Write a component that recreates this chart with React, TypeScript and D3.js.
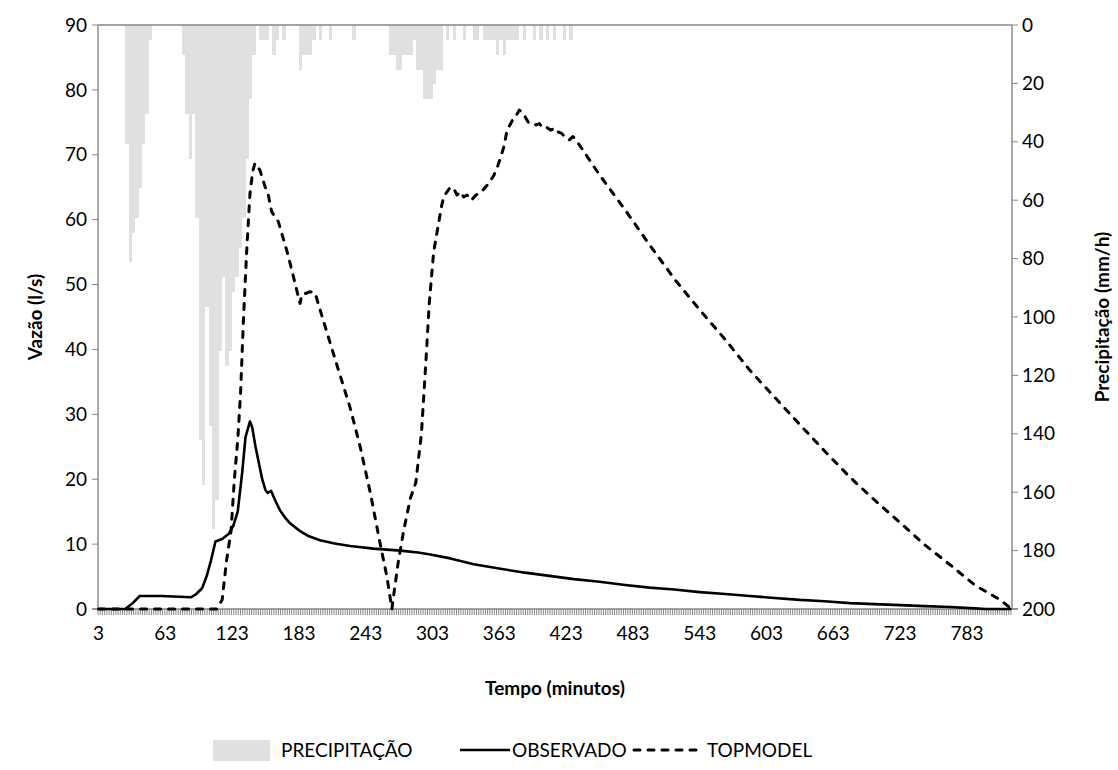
import React from "react";
import * as d3 from "d3";

// precipitation: 3-minute bars, time = end of interval (min), value in mm/h
const precipTempo = [
  30, 33, 36, 39, 42, 45, 48, 51,
  81, 84, 87, 90, 93, 96, 99, 102, 105, 108, 111, 114, 117, 120, 123, 126, 129, 132, 135, 138, 141, 144,
  150, 153, 156, 162, 165, 171, 186, 189, 192, 195, 198, 204, 213, 234,
  267, 270, 273, 276, 279, 282, 285, 288, 291, 294, 297, 300, 303, 306, 309, 312,
  318, 324, 333, 342, 345, 351, 354, 357, 360, 363, 366, 369, 372, 375, 378, 381,
  387, 396, 402, 408, 414, 423, 429,
];
const precipMmH = [
  40.64, 81.28, 71.12, 66.04, 55.88, 40.64, 30.48, 5.08,
  10.16, 30.48, 45.72, 30.48, 66.04, 142.24, 157.48, 96.52, 137.16, 172.72, 162.56, 111.76, 86.36, 116.84, 111.76, 91.44, 86.36, 76.2, 66.04, 45.72, 25.4, 10.16,
  5.08, 5.08, 5.08, 10.16, 5.08, 5.08, 15.24, 10.16, 10.16, 10.16, 5.08, 5.08, 5.08, 5.08,
  10.16, 10.16, 15.24, 15.24, 10.16, 10.16, 10.16, 5.08, 15.24, 15.24, 25.4, 25.4, 25.4, 20.32, 15.24, 15.24,
  5.08, 5.08, 5.08, 5.08, 5.08, 5.08, 5.08, 5.08, 5.08, 10.16, 5.08, 10.16, 5.08, 5.08, 5.08, 5.08,
  5.08, 5.08, 5.08, 5.08, 5.08, 5.08, 5.08,
];

// observed discharge (l/s)
const obsTempo = [
  3, 27, 33, 40, 60, 86, 90, 96, 100, 104, 108, 114, 120, 124, 128, 132, 135, 139, 141, 144, 147, 150, 153,
  155, 158, 162, 166, 170, 175, 184, 192, 202, 215, 229, 250, 274, 290, 301, 319, 340, 364, 386, 408, 430,
  453, 476, 498, 520, 543, 566, 588, 610, 633, 655, 678, 700, 723, 745, 768, 790, 800, 823,
];
const obsVazao = [
  0, 0, 0.8, 2.0, 2.0, 1.8, 2.2, 3.2, 5.0, 7.5, 10.4, 10.8, 11.6, 12.8, 15.0, 21.0, 26.5, 28.9, 28.0, 25.0, 22.5, 20.0, 18.3,
  17.9, 18.2, 16.6, 15.2, 14.2, 13.2, 12.0, 11.2, 10.6, 10.1, 9.7, 9.3, 9.0, 8.7, 8.4, 7.8, 6.9, 6.2, 5.6, 5.1, 4.6,
  4.2, 3.7, 3.3, 3.0, 2.6, 2.3, 2.0, 1.7, 1.4, 1.2, 0.9, 0.75, 0.6, 0.45, 0.3, 0.1, 0, 0,
];

// TOPMODEL simulated discharge (l/s)
const topTempo = [
  3, 109, 114, 118, 122, 125, 128, 130.5, 133, 136, 139, 141.5, 143.5, 148, 152.5, 155.5, 158.5, 164.5, 167.5,
  172, 175, 179.5, 182.5, 184, 185.5, 193, 197.5, 202, 211, 220, 229, 238, 247, 256, 262, 266.5,
  268, 272, 277, 283, 288, 293, 297, 300, 304, 308, 311, 313, 316, 319, 322, 325, 328, 331, 334, 338, 342, 347,
  353, 358, 361, 364, 367, 370, 375, 378, 381, 384, 386, 389, 392, 396, 399, 402, 405, 409, 413, 416, 419, 423,
  426, 429, 431, 435, 453, 476, 498, 521, 543, 566, 588, 611, 633, 656, 678, 700, 723, 745, 768, 790, 813, 823,
];
const topVazao = [
  0, 0, 1.4, 7.5, 12, 20, 26, 33, 44, 55, 64, 67.5, 68.7, 67.6, 65.1, 63.8, 61.2, 59.7, 57.9,
  55.3, 53.3, 50.2, 48.1, 47.1, 48.4, 48.9, 48.7, 46.1, 41, 36, 31, 25, 18, 10, 5, 0,
  2, 7, 12, 17, 19.5, 27, 38, 47, 55, 59, 62, 63.5, 64.3, 65, 64.8, 63.8, 64.3, 63.5, 63.8, 63, 63.8, 64.3,
  65.5, 66.8, 68, 69.5, 71.2, 73.8, 75.4, 76, 76.9, 76.4, 75.9, 75, 74.8, 74.6, 74.8, 74.2, 74.3, 73.8, 74.1, 73.5, 73.3, 72.5,
  72.3, 72.8, 72.5, 71.5, 66.9, 61.5, 56.1, 50.7, 46.1, 41.5, 36.8, 32.5, 28.4, 24.2, 20.3, 16.8, 13.3, 9.9, 6.8, 3.7, 1.4, 0,
];

const xTickLabels = [3, 63, 123, 183, 243, 303, 363, 423, 483, 543, 603, 663, 723, 783];
const yLeftTicks = [0, 10, 20, 30, 40, 50, 60, 70, 80, 90];
const yRightTicks = [0, 20, 40, 60, 80, 100, 120, 140, 160, 180, 200];

const W = 1118;
const H = 770;
const L = 98, R = 1012, T = 25, B = 609;
const axisColor = "#868686";
const barColor = "#e0e0e0";
const font = "Lato, 'Open Sans', sans-serif";

export default function App() {
  const x = d3.scaleLinear().domain([2.5, 823.5]).range([L, R]);
  const yL = d3.scaleLinear().domain([0, 90]).range([B, T]);
  const yR = d3.scaleLinear().domain([0, 200]).range([T, B]);

  const obsLine = d3
    .line<number>()
    .x((d, i) => x(obsTempo[i]))
    .y((d) => yL(d));
  const topLine = d3
    .line<number>()
    .x((d, i) => x(topTempo[i]))
    .y((d) => yL(d));

  const minorTicks = d3.range(2.5, 823.6, 2);

  return (
    <svg
      width={W}
      height={H}
      style={{ position: "absolute", left: 0, top: 0, background: "#fff" }}
      fontFamily={font}
    >
      <rect x={0} y={0} width={W} height={H} fill="#fff" />

      {/* precipitation bars hanging from the top */}
      {precipTempo.map((t, i) => (
        <rect
          key={"p" + i}
          x={x(t - 3)}
          y={yR(0)}
          width={x(t) - x(t - 3)}
          height={yR(precipMmH[i]) - yR(0)}
          fill={barColor}
          shapeRendering="crispEdges"
        />
      ))}

      {/* axes lines */}
      <g stroke={axisColor} strokeWidth={1.4} fill="none">
        <line x1={L} x2={R} y1={T} y2={T} />
        <line x1={L} x2={L} y1={T} y2={B} />
        <line x1={R} x2={R} y1={T} y2={B} />
        <line x1={L - 6} x2={R + 6} y1={B} y2={B} />
      </g>
      <g stroke={axisColor} strokeWidth={1}>
        {minorTicks.map((m, i) => (
          <line key={"mt" + i} x1={x(m)} x2={x(m)} y1={B} y2={B + 6} />
        ))}
        {yLeftTicks.map((v) => (
          <line key={"lt" + v} x1={L - 6} x2={L} y1={yL(v)} y2={yL(v)} />
        ))}
        {yRightTicks.map((v) => (
          <line key={"rt" + v} x1={R} x2={R + 6} y1={yR(v)} y2={yR(v)} />
        ))}
      </g>

      {/* series lines */}
      <path d={obsLine(obsVazao) || ""} fill="none" stroke="#000" strokeWidth={2.6} strokeLinejoin="round" />
      <path
        d={topLine(topVazao) || ""}
        fill="none"
        stroke="#000"
        strokeWidth={3}
        strokeDasharray="6 8"
        strokeLinecap="round"
        strokeLinejoin="round"
      />

      {/* tick labels */}
      <g fontSize={19} fill="#000">
        {yLeftTicks.map((v) => (
          <text key={"ll" + v} x={L - 11} y={yL(v)} dy="0.35em" textAnchor="end">
            {v}
          </text>
        ))}
        {yRightTicks.map((v) => (
          <text key={"rl" + v} x={R + 10} y={yR(v)} dy="0.35em" textAnchor="start">
            {v}
          </text>
        ))}
        {xTickLabels.map((v) => (
          <text key={"xl" + v} x={x(v)} y={640} textAnchor="middle">
            {v}
          </text>
        ))}
      </g>

      {/* axis titles */}
      <text x={(L + R) / 2} y={695} textAnchor="middle" fontSize={19} fontWeight="bold">
        Tempo (minutos)
      </text>
      <text
        transform={`translate(42, ${(T + B) / 2}) rotate(-90)`}
        textAnchor="middle"
        fontSize={19}
        fontWeight="bold"
      >
        Vazão (l/s)
      </text>
      <text
        transform={`translate(1109, ${(T + B) / 2}) rotate(-90)`}
        textAnchor="middle"
        fontSize={19}
        fontWeight="bold"
      >
        Precipitação (mm/h)
      </text>

      {/* legend */}
      <g fontSize={19}>
        <rect x={213} y={740} width={57} height={21} fill={barColor} />
        <text x={281} y={757}>PRECIPITAÇÃO</text>
        <line x1={460} x2={510} y1={750} y2={750} stroke="#000" strokeWidth={2.6} />
        <text x={512} y={757}>OBSERVADO</text>
        <line
          x1={634}
          x2={703}
          y1={750}
          y2={750}
          stroke="#000"
          strokeWidth={3}
          strokeDasharray="6 8"
          strokeLinecap="round"
        />
        <text x={707} y={757}>TOPMODEL</text>
      </g>
    </svg>
  );
}
